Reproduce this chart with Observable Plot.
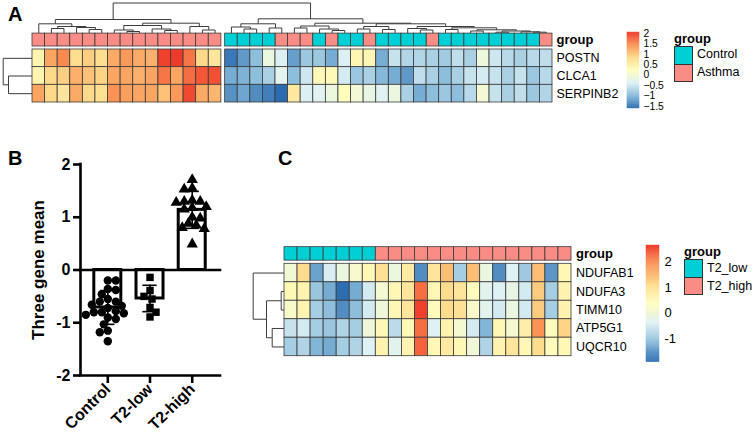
<!DOCTYPE html>
<html><head><meta charset="utf-8">
<script src="https://cdn.jsdelivr.net/npm/d3@7"></script>
<script src="https://cdn.jsdelivr.net/npm/@observablehq/plot@0.6"></script>
<style>
html,body{margin:0;padding:0;background:#fff;}
#root{position:relative;width:754px;height:438px;overflow:hidden;font-family:"Liberation Sans",Arial,Helvetica,sans-serif;color:#000;}
#root svg{position:absolute;left:0;top:0;background:transparent !important;overflow:visible;}
.pl{position:absolute;font-size:20px;font-weight:bold;line-height:1;}
.gt{position:absolute;font-size:13px;font-weight:bold;line-height:1;}
.box{position:absolute;box-sizing:border-box;border:1px solid #333;}
.bl{position:absolute;font-size:12.5px;line-height:1;display:flex;align-items:center;white-space:nowrap;}
.bplot text{font-weight:bold;}
</style></head><body><div id="root"></div>
<script>
// ---------------- DATA ----------------
// Panel A heatmap (z-scores), 41 samples: 15 left cluster + 26 right cluster
const genesA = ["POSTN", "CLCA1", "SERPINB2"];
const groupA = ["A","A","A","A","A","A","A","A","A","A","A","A","A","A","A",
  "C","C","C","C","A","A","A","C","A","C","C","A","C","C","C","C","A","C","C","C","C","C","C","C","C","A"];
const groupNamesA = {A: "Asthma", C: "Control"};
const postnA = [0.4,1.3,1.5,0.8,0.95,0.8,1.25,1.4,1.25,1.2,2.0,2.05,1.65,0.85,0.65,
  -1.5,-1.25,-0.95,-0.15,-0.4,-1.2,-0.85,-0.85,-1.1,-0.4,0.35,0.35,-1.1,-0.55,-0.7,-0.7,-0.75,-0.8,-0.6,-0.75,-0.1,-0.5,-0.65,-0.75,-0.65,-0.6];
const clca1A = [0.4,0.85,0.95,1.2,1.05,0.9,1.3,1.3,1.2,1.3,1.65,1.3,1.7,1.85,1.9,
  -1.1,-1.05,-0.95,-0.75,-0.3,-0.95,-0.5,0.3,0.3,-0.45,-0.85,-0.75,-1.0,-1.1,-1.25,-0.6,-0.75,-0.95,-0.75,-0.55,-0.45,-0.55,-0.75,-0.55,-0.85,-0.65];
const serpinb2A = [1.3,0.85,0.65,1.25,0.85,0.75,1.45,1.35,1.3,1.3,1.05,1.4,1.95,1.25,1.15,
  -1.3,-1.15,-1.35,-1.45,-1.6,0.6,-0.4,-0.35,-0.15,0.25,0.0,-0.2,-0.35,-0.15,-0.75,-1.1,-0.95,-0.85,-0.95,-0.65,0.0,-0.55,-0.75,-0.6,-0.85,-0.7];
// dendrograms: [height, left, right], leaves = index
const colTreeA = [30,
  [13.5, [9.2, 0, [6.5, [4.5, 1, 2], [5.5, 3, [3.5, 4, 5]]]],
         [9.8, [7.5, [3, 6, [1.5, 7, 8]], [4, 9, [2.5, 10, 11]]], [6.5, 12, [3, 13, 14]]]],
  [14.2, [9.2, [6, 15, [4, 16, 17]], [5, 18, 19]],
         [9.8, [7, [5, 20, 21], [4, 22, [2.5, 23, 24]]],
               [9.2, [6.5, [4, 25, 26], [3.5, 27, 28]],
                     [6.5, [4.5, 29, [3, 30, 31]],
                           [5.2, [3.5, 32, 33],
                                 [3.2, [2, 34, 35], [2, [0.8, 36, 37], [1.2, 38, [0.8, 39, 40]]]]]]]]]];
const rowTreeA = [29.3, 0, [24, 1, 2]];
const legendTicksA = [2, 1.5, 1, 0.5, 0, -0.5, -1, -1.5];

// Panel B
const catsB = ["Control", "T2-low", "T2-high"];
const controlB = [-0.2,-0.2,-0.36,-0.38,-0.46,-0.55,-0.6,-0.6,-0.66,-0.68,-0.72,-0.78,-0.8,-0.8,-0.82,-0.85,-0.9,-0.93,-1.03,-1.15,-1.18,-1.35];
const t2lowB = [-0.14,-0.39,-0.5,-0.55,-0.71,-0.8,-0.89];
const t2highB = [1.71,1.55,1.53,1.32,1.30,1.30,1.28,1.20,1.18,1.15,1.0,0.98,0.88,0.85,0.8,0.78,0.49];
const meansB = [-0.71, -0.54, 1.14];
const sdsB = [0.32, 0.25, 0.35];
const yTicksB = [-2, -1, 0, 1, 2];

// Panel C heatmap, 22 samples
const genesC = ["NDUFAB1", "NDUFA3", "TIMM10", "ATP5G1", "UQCR10"];
const groupC = ["L","L","L","L","L","L","L","H","H","H","H","H","H","H","H","H","H","H","H","H","H","H"];
const groupNamesC = {L: "T2_low", H: "T2_high"};
const ndufab1C = [0.05,1.1,-1.4,-0.45,-0.1,0.15,0.45,1.0,-0.1,0.75,-1.6,0.9,1.45,-0.9,1.45,-0.1,-1.6,-0.4,-0.95,1.45,-1.5,0.5];
const ndufa3C = [0.5,0.6,-1.0,-1.3,-1.9,-1.3,-0.5,0.1,0.5,0.9,2.2,0.5,1.1,0.9,0.4,-0.3,-0.4,-0.2,-0.5,1.3,-0.9,0.6];
const timm10C = [0.2,0.6,-0.9,-1.1,-1.6,-1.1,-0.5,0.0,0.5,0.9,2.6,0.4,1.1,1.0,0.2,-0.3,-0.5,-0.1,-0.5,1.3,-0.9,0.6];
const atp5g1C = [-0.6,-0.5,-0.9,-1.0,-0.8,-0.9,0.0,0.5,-0.7,0.5,2.2,-0.4,0.6,0.1,-0.5,-1.2,0.5,0.1,0.7,1.9,0.4,1.2];
const uqcr10C = [-0.9,-0.8,-1.2,-1.3,-0.9,-0.8,-0.4,0.6,-0.3,0.6,2.3,0.5,0.8,0.5,0.0,-0.8,0.6,0.9,0.5,1.1,0.4,0.5];
const rowTreeC = [31.3, 0, [18, [3.3, 1, 2], [12.3, 3, 4]]];
const legendTicksC = [2, 1, 0, -1];

// ---------------- STYLE ----------------
const palette = ["#2B6CB0","#87BADA","#DEF1F4","#FFFDBE","#FEDB8C","#FA9455","#EE3A2A"];
const teal = "#00D0D6", salmon = "#F98C84";
const groupColors = {A: salmon, C: teal, L: teal, H: salmon};
const loA = -1.6, hiA = 2.05, loC = -1.92, hiC = 2.65;
const cellStroke = "#3a3a3a";
const lineCol = "#3d3d3d";
const W = 754, H = 438;
const baseStyle = "font-family: 'Liberation Sans', Arial, Helvetica, sans-serif; font-size: 13px; background: transparent; overflow: visible;";
const annTop = -0.9, annBot = -0.17;

const root = document.getElementById("root");
const add = (el) => root.appendChild(el);

function colorSpec(lo, hi) {
  return {type: "linear", domain: palette.map((_, i) => lo + i * (hi - lo) / (palette.length - 1)), range: palette, interpolate: "rgb"};
}
function dendro(tree, leafPos) {
  const segs = [];
  (function walk(n) {
    if (typeof n === "number") return {p: leafPos(n), h: 0};
    const [h, a, b] = n;
    const A = walk(a), B = walk(b);
    segs.push({p1: A.p, h1: A.h, p2: A.p, h2: h});
    segs.push({p1: B.p, h1: B.h, p2: B.p, h2: h});
    segs.push({p1: A.p, h1: h, p2: B.p, h2: h});
    return {p: (A.p + B.p) / 2, h};
  })(tree);
  return segs;
}
function ramp(lo, hi, n = 120) {
  return d3.range(n).map(k => ({a: lo + k * (hi - lo) / n, b: lo + (k + 1) * (hi - lo) / n, m: lo + (k + 0.5) * (hi - lo) / n}));
}

// ---------------- PANEL A ----------------
const valuesA = [postnA, clca1A, serpinb2A];
const splitA = 15, gapA = 0.3;
const xA = i => i + (i >= splitA ? gapA : 0);
const xEndA = groupA.length + gapA;
const cellsA = valuesA.flatMap((row, r) => row.map((v, c) => ({r, c, v})));
const annA = groupA.map((g, c) => ({g, c}));

add(Plot.plot({
  width: W, height: H, style: baseStyle,
  x: {domain: [0, xEndA], range: [32, 552], axis: null},
  y: {domain: [0, 30], range: [32.5, 2.5], axis: null},
  marks: [Plot.link(dendro(colTreeA, i => xA(i) + 0.5), {x1: "p1", y1: "h1", x2: "p2", y2: "h2", stroke: lineCol, strokeWidth: 1})]
}));
add(Plot.plot({
  width: W, height: H, style: baseStyle,
  x: {domain: [0, 30], range: [32, 2], axis: null},
  y: {domain: [0, genesA.length], range: [49, 102], axis: null},
  marks: [Plot.link(dendro(rowTreeA, i => i + 0.5), {x1: "h1", y1: "p1", x2: "h2", y2: "p2", stroke: lineCol, strokeWidth: 1})]
}));
add(Plot.plot({
  width: W, height: H, style: baseStyle,
  x: {domain: [0, xEndA], range: [32, 552], axis: null},
  y: {domain: [0, genesA.length], range: [49, 102], axis: null},
  color: colorSpec(loA, hiA),
  marks: [
    ...Object.keys(groupNamesA).map(g => Plot.rect(annA.filter(d => d.g === g), {
      x1: d => xA(d.c), x2: d => xA(d.c) + 1, y1: annTop, y2: annBot,
      fill: groupColors[g], stroke: cellStroke, strokeWidth: 0.8})),
    Plot.rect(cellsA, {x1: d => xA(d.c), x2: d => xA(d.c) + 1, y1: "r", y2: d => d.r + 1, fill: "v", stroke: cellStroke, strokeWidth: 0.8}),
    Plot.text(genesA, {x: xEndA, y: (d, i) => i + 0.5, text: d => d, dx: 4, textAnchor: "start", fontSize: 12.5}),
    Plot.text(["group"], {x: xEndA, y: (annTop + annBot) / 2, text: d => d, dx: 4, textAnchor: "start", fontWeight: "bold", fontSize: 13})
  ]
}));
add(Plot.plot({
  width: W, height: H, style: baseStyle,
  x: {domain: [0, 1], range: [627, 639], axis: null},
  y: {domain: [loA, hiA], range: [108, 32], axis: null},
  color: colorSpec(loA, hiA),
  marks: [
    Plot.rect(ramp(loA, hiA), {x1: 0, x2: 1, y1: "a", y2: "b", fill: "m", stroke: "m", strokeWidth: 0.4}),
    Plot.text(legendTicksA, {x: 1, y: d => d, text: d => (d < 0 ? "\u2212" : "") + Math.abs(d), dx: 4, textAnchor: "start", fontSize: 10.3})
  ]
}));

// ---------------- PANEL B ----------------
const valsB = [controlB, t2lowB, t2highB];
const xDomB = [-0.647, 2.67];
const pxPerX = 140 / (xDomB[1] - xDomB[0]), pxPerY = 211 / 4, rB = 4;
function swarm(vals) {
  const placed = [], off = new Array(vals.length);
  const order = vals.map((v, k) => k).sort((a, b) => vals[b] - vals[a]);
  for (const k of order) {
    const py = vals[k] * pxPerY;
    let chosen = 0;
    outer: for (let s = 0; s < 60; s++) {
      const cands = s === 0 ? [0] : (placed.length % 2 ? [s, -s] : [-s, s]);
      for (const c of cands) {
        const px = c * rB * 0.5;
        if (placed.every(p => Math.hypot(p[0] - px, p[1] - py) >= 1.8 * rB)) { chosen = px; break outer; }
      }
    }
    placed.push([chosen, py]);
    off[k] = chosen / pxPerX;
  }
  return off;
}
const pointsB = catsB.flatMap((g, i) => { const off = swarm(valsB[i]); return valsB[i].map((v, k) => ({g, x: i + off[k], v})); });
const barsB = catsB.map((g, i) => ({g, i, mean: meansB[i], sd: sdsB[i]}));
const capsB = barsB.flatMap(d => [d.mean - d.sd, d.mean + d.sd].map(y => ({i: d.i, y})));
const fmtB = d => (d < 0 ? "-" : "") + Math.abs(d);

add(Plot.plot({
  width: W, height: H, className: "bplot", style: baseStyle,
  marginLeft: 80, marginRight: W - 220, marginTop: 164, marginBottom: H - 375,
  x: {domain: xDomB, axis: null},
  y: {domain: [-2, 2], axis: null},
  symbol: {domain: catsB, range: ["circle", "square", "triangle"]},
  marks: [
    Plot.rect(barsB, {x1: d => d.i - 0.32, x2: d => d.i + 0.32, y1: 0, y2: "mean", fill: "none", stroke: "black", strokeWidth: 3}),
    Plot.ruleX(barsB, {x: "i", y1: d => d.mean - d.sd, y2: d => d.mean + d.sd, stroke: "black", strokeWidth: 1.6}),
    Plot.ruleY(capsB, {y: "y", x1: d => d.i - 0.17, x2: d => d.i + 0.17, stroke: "black", strokeWidth: 1.6}),
    Plot.dot(pointsB, {x: "x", y: "v", symbol: "g", r: 4.2, fill: "black", stroke: "none"}),
    Plot.ruleY([0, -2], {y: d => d, x1: xDomB[0], x2: xDomB[1], stroke: "black", strokeWidth: 2.6, strokeLinecap: "square"}),
    Plot.ruleX([xDomB[0]], {x: d => d, y1: -2, y2: 2, stroke: "black", strokeWidth: 2.6, strokeLinecap: "square"}),
    Plot.axisY({ticks: yTicksB, tickFormat: fmtB, tickSize: 7, tickPadding: 3, strokeWidth: 2.6, fontSize: 16, fontWeight: "bold", label: null}),
    Plot.axisX({ticks: [0, 1, 2], tickFormat: i => catsB[i], tickSize: 8, tickPadding: 3, tickRotate: -45, strokeWidth: 2.6, fontSize: 16, fontWeight: "bold", label: null}),
    Plot.text(["Three gene mean"], {frameAnchor: "left", textAnchor: "middle", rotate: -90, dx: -42, text: d => d, fontSize: 17, fontWeight: "bold"})
  ]
}));

// ---------------- PANEL C ----------------
const valuesC = [ndufab1C, ndufa3C, timm10C, atp5g1C, uqcr10C];
const cellsC = valuesC.flatMap((row, r) => row.map((v, c) => ({r, c, v})));
const annC = groupC.map((g, c) => ({g, c}));
const nC = groupC.length;

add(Plot.plot({
  width: W, height: H, style: baseStyle,
  x: {domain: [0, 32], range: [284, 252], axis: null},
  y: {domain: [0, genesC.length], range: [263.3, 355.7], axis: null},
  marks: [Plot.link(dendro(rowTreeC, i => i + 0.5), {x1: "h1", y1: "p1", x2: "h2", y2: "p2", stroke: lineCol, strokeWidth: 1})]
}));
add(Plot.plot({
  width: W, height: H, style: baseStyle,
  x: {domain: [0, nC], range: [284, 571], axis: null},
  y: {domain: [0, genesC.length], range: [263.3, 355.7], axis: null},
  color: colorSpec(loC, hiC),
  marks: [
    ...Object.keys(groupNamesC).map(g => Plot.rect(annC.filter(d => d.g === g), {
      x1: "c", x2: d => d.c + 1, y1: annTop, y2: annBot,
      fill: groupColors[g], stroke: cellStroke, strokeWidth: 0.8})),
    Plot.rect(cellsC, {x1: "c", x2: d => d.c + 1, y1: "r", y2: d => d.r + 1, fill: "v", stroke: cellStroke, strokeWidth: 0.8}),
    Plot.text(genesC, {x: nC, y: (d, i) => i + 0.5, text: d => d, dx: 4.5, textAnchor: "start", fontSize: 12.5}),
    Plot.text(["group"], {x: nC, y: (annTop + annBot) / 2, text: d => d, dx: 4.5, textAnchor: "start", fontWeight: "bold", fontSize: 13})
  ]
}));
add(Plot.plot({
  width: W, height: H, style: baseStyle,
  x: {domain: [0, 1], range: [646, 659], axis: null},
  y: {domain: [loC, hiC], range: [361.7, 245], axis: null},
  color: colorSpec(loC, hiC),
  marks: [
    Plot.rect(ramp(loC, hiC), {x1: 0, x2: 1, y1: "a", y2: "b", fill: "m", stroke: "m", strokeWidth: 0.4}),
    Plot.text(legendTicksC, {x: 1, y: d => d, text: d => String(d), dx: 5, textAnchor: "start", fontSize: 13})
  ]
}));

// ---------------- HTML LABELS & GROUP LEGENDS ----------------
function div(cls, css, text) {
  const d = document.createElement("div");
  d.className = cls; d.style.cssText = css; if (text != null) d.textContent = text;
  root.appendChild(d); return d;
}
div("pl", "left:8px;top:4px;", "A");
div("pl", "left:8px;top:148px;", "B");
div("pl", "left:278px;top:148px;", "C");

function groupLegend(x, titleTop, boxTop, names, keys) {
  div("gt", `left:${x}px;top:${titleTop}px;`, "group");
  keys.forEach((k, i) => {
    const top = boxTop + i * 18;
    div("box", `left:${x}px;top:${top}px;width:19px;height:${i === keys.length - 1 ? 18 : 19}px;background:${groupColors[k]};`);
    div("bl", `left:${x + 23}px;top:${top}px;height:18px;`, names[k]);
  });
}
groupLegend(674, 32, 45.5, groupNamesA, ["C", "A"]);
groupLegend(684, 245, 259.3, groupNamesC, ["L", "H"]);
</script></body></html>
